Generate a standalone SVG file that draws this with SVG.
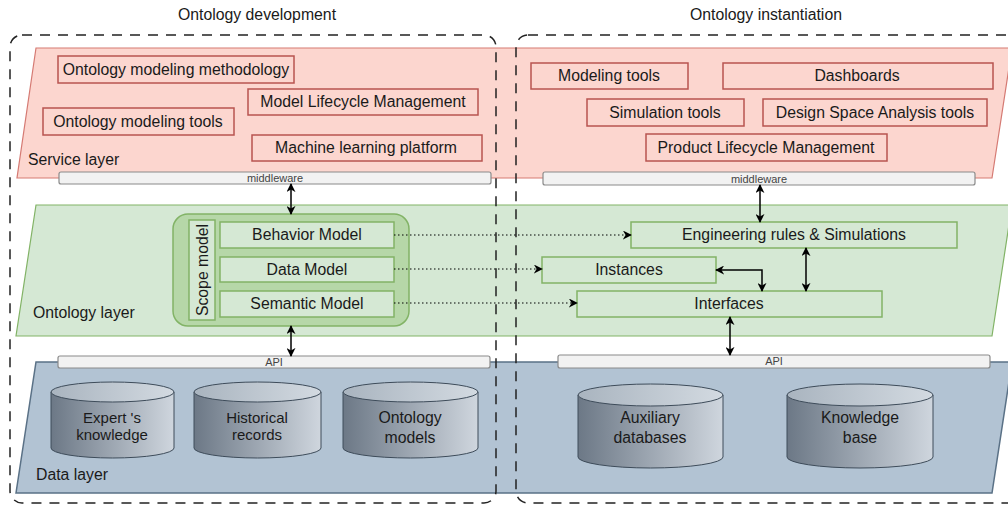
<svg xmlns="http://www.w3.org/2000/svg" width="1008" height="507" viewBox="0 0 1008 507">
<defs>
<marker id="arr" viewBox="0 0 10 10" refX="9" refY="5" markerWidth="9" markerHeight="9" markerUnits="userSpaceOnUse" orient="auto-start-reverse">
<path d="M0,0 L10,5 L0,10 L3,5 z" fill="#000"/>
</marker>
<linearGradient id="cyl" x1="0" y1="0" x2="1" y2="0">
<stop offset="0" stop-color="#6c7886"/>
<stop offset="1" stop-color="#cfd6de"/>
</linearGradient>
<linearGradient id="cyltop" x1="0" y1="0" x2="1" y2="0">
<stop offset="0" stop-color="#a9b4bf"/>
<stop offset="1" stop-color="#d3dae1"/>
</linearGradient>
<style>
text{font-family:"Liberation Sans",Arial,sans-serif;fill:#1a1a1a}
.t15{font-size:15.8px}
.c15{font-size:15px}
.mid{text-anchor:middle}
.sbox{fill:#fcd6cf;stroke:#b85450;stroke-width:1.5}
.obox{fill:#d5e8d4;stroke:#82b366;stroke-width:1.5}
.bar{fill:#f2f2f2;stroke:#8a8a8a;stroke-width:1.2}
.bartxt{font-size:11px;fill:#444;text-anchor:middle}
.cont{fill:none;stroke:#222;stroke-width:1.5;stroke-dasharray:10 8}
.cylb{fill:url(#cyl);stroke:#3e4c5a;stroke-width:1}
.cylt{fill:url(#cyltop);stroke:#3e4c5a;stroke-width:1}
.dot{fill:none;stroke:#000;stroke-width:1.2;stroke-dasharray:1.5 2.5}
.bi{fill:none;stroke:#000;stroke-width:1.5}
</style>
</defs>

<g id="titles">
<text class="t15 mid" x="257" y="20">Ontology development</text>
<text class="t15 mid" x="766" y="20">Ontology instantiation</text>
</g>

<g id="service-layer">
<polygon points="36,48 1012,48 992,178 17,178" fill="#fcd6cf" stroke="#d57a73" stroke-width="1.2"/>
<text class="t15" x="28" y="165">Service layer</text>
</g>
<g id="ontology-layer">
<polygon points="36,205 1012,205 992,336 16,336" fill="#d5e8d4" stroke="#82b366" stroke-width="1.2"/>
<text class="t15" x="33" y="318">Ontology layer</text>
</g>
<g id="data-layer">
<polygon points="36,362 1012,362 992,493 16,493" fill="#b2c3d3" stroke="#5a7186" stroke-width="1.5"/>
<text class="t15" x="36" y="480">Data layer</text>
</g>

<g id="svc-left">
<g id="n-omm"><rect class="sbox" x="58" y="56" width="236" height="27"/><text class="t15 mid" x="176" y="75">Ontology modeling methodology</text></g>
<g id="n-mlm"><rect class="sbox" x="248" y="89" width="230" height="26"/><text class="t15 mid" x="363" y="107">Model Lifecycle Management</text></g>
<g id="n-omt"><rect class="sbox" x="43" y="108" width="191" height="27"/><text class="t15 mid" x="138" y="127">Ontology modeling tools</text></g>
<g id="n-mlp"><rect class="sbox" x="252" y="135" width="230" height="26"/><text class="t15 mid" x="366" y="153">Machine learning platform</text></g>
</g>
<g id="svc-right">
<g id="n-mt"><rect class="sbox" x="531" y="63" width="157" height="26"/><text class="t15 mid" x="609" y="81">Modeling tools</text></g>
<g id="n-db"><rect class="sbox" x="723" y="63" width="270" height="26"/><text class="t15 mid" x="857" y="81">Dashboards</text></g>
<g id="n-st"><rect class="sbox" x="587" y="99" width="157" height="27"/><text class="t15 mid" x="665" y="118">Simulation tools</text></g>
<g id="n-dsa"><rect class="sbox" x="763" y="99" width="224" height="27"/><text class="t15 mid" x="875" y="118">Design Space Analysis tools</text></g>
<g id="n-plm"><rect class="sbox" x="646" y="134" width="241" height="27"/><text class="t15 mid" x="766" y="153">Product Lifecycle Management</text></g>
</g>

<g id="middleware-left"><rect class="bar" x="59" y="172" width="432" height="12" rx="2"/><text class="bartxt" x="275" y="182">middleware</text></g>
<g id="middleware-right"><rect class="bar" x="543" y="172" width="432" height="13" rx="2"/><text class="bartxt" x="759" y="183">middleware</text></g>

<g id="scope">
<rect x="173" y="214" width="236" height="112" rx="15" fill="#b6d7a8" stroke="#82b366" stroke-width="1.5"/>
<g id="n-scope"><rect class="obox" x="189" y="220" width="26" height="100"/><text class="t15 mid" transform="translate(207.5,270) rotate(-90)">Scope model</text></g>
<g id="n-beh"><rect class="obox" x="220" y="222" width="174" height="26"/><text class="t15 mid" x="307" y="240">Behavior Model</text></g>
<g id="n-data"><rect class="obox" x="220" y="257" width="174" height="25"/><text class="t15 mid" x="307" y="275">Data Model</text></g>
<g id="n-sem"><rect class="obox" x="220" y="291" width="174" height="26"/><text class="t15 mid" x="307" y="309">Semantic Model</text></g>
</g>
<g id="n-eng"><rect class="obox" x="631" y="222" width="326" height="26"/><text class="t15 mid" x="794" y="240">Engineering rules &amp; Simulations</text></g>
<g id="n-inst"><rect class="obox" x="542" y="257" width="174" height="26"/><text class="t15 mid" x="629" y="275">Instances</text></g>
<g id="n-intf"><rect class="obox" x="577" y="291" width="305" height="26"/><text class="t15 mid" x="729" y="309">Interfaces</text></g>

<g id="api-left"><rect class="bar" x="58" y="356" width="432" height="12" rx="2"/><text class="bartxt" x="274" y="366">API</text></g>
<g id="api-right"><rect class="bar" x="558" y="355" width="432" height="13" rx="2"/><text class="bartxt" x="774" y="365">API</text></g>

<g id="n-expert">
<path class="cylb" d="M51,392 L51,448 A61.5,10 0 0 0 174,448 L174,392 Z"/>
<ellipse class="cylt" cx="112.5" cy="392" rx="61.5" ry="10"/>
<text class="c15 mid" x="112" y="423">Expert 's</text><text class="c15 mid" x="112" y="440">knowledge</text>
</g>
<g id="n-hist">
<path class="cylb" d="M194,392 L194,448 A63.5,10 0 0 0 321,448 L321,392 Z"/>
<ellipse class="cylt" cx="257.5" cy="392" rx="63.5" ry="10"/>
<text class="c15 mid" x="257" y="423">Historical</text><text class="c15 mid" x="257" y="440">records</text>
</g>
<g id="n-ontm">
<path class="cylb" d="M343,392 L343,448 A67.5,10 0 0 0 478,448 L478,392 Z"/>
<ellipse class="cylt" cx="410.5" cy="392" rx="67.5" ry="10"/>
<text class="t15 mid" x="410" y="423">Ontology</text><text class="t15 mid" x="410" y="443">models</text>
</g>
<g id="n-aux">
<path class="cylb" d="M578,395 L578,457 A72.5,11 0 0 0 723,457 L723,395 Z"/>
<ellipse class="cylt" cx="650.5" cy="395" rx="72.5" ry="11"/>
<text class="t15 mid" x="650" y="423">Auxiliary</text><text class="t15 mid" x="650" y="443">databases</text>
</g>
<g id="n-kb">
<path class="cylb" d="M787,395 L787,457 A73,11 0 0 0 933,457 L933,395 Z"/>
<ellipse class="cylt" cx="860" cy="395" rx="73" ry="11"/>
<text class="t15 mid" x="860" y="423">Knowledge</text><text class="t15 mid" x="860" y="443">base</text>
</g>

<g id="containers">
<rect class="cont" x="10" y="35" width="486" height="468" rx="12"/>
<rect class="cont" x="516" y="35" width="520" height="468" rx="12"/>
</g>

<g id="connectors">
<path class="dot" d="M394,235 L631,235" marker-end="url(#arr)"/>
<path class="dot" d="M394,269 L542,269" marker-end="url(#arr)"/>
<path class="dot" d="M394,303 L577,303" marker-end="url(#arr)"/>
<path class="bi" d="M291,184 L291,214" marker-start="url(#arr)" marker-end="url(#arr)"/>
<path class="bi" d="M291,326 L291,356" marker-start="url(#arr)" marker-end="url(#arr)"/>
<path class="bi" d="M760,185 L760,222" marker-start="url(#arr)" marker-end="url(#arr)"/>
<path class="bi" d="M806,248 L806,291" marker-start="url(#arr)" marker-end="url(#arr)"/>
<path class="bi" d="M716,270 L762,270 L762,291" marker-start="url(#arr)" marker-end="url(#arr)"/>
<path class="bi" d="M730,317 L730,355" marker-start="url(#arr)" marker-end="url(#arr)"/>
</g>
</svg>
